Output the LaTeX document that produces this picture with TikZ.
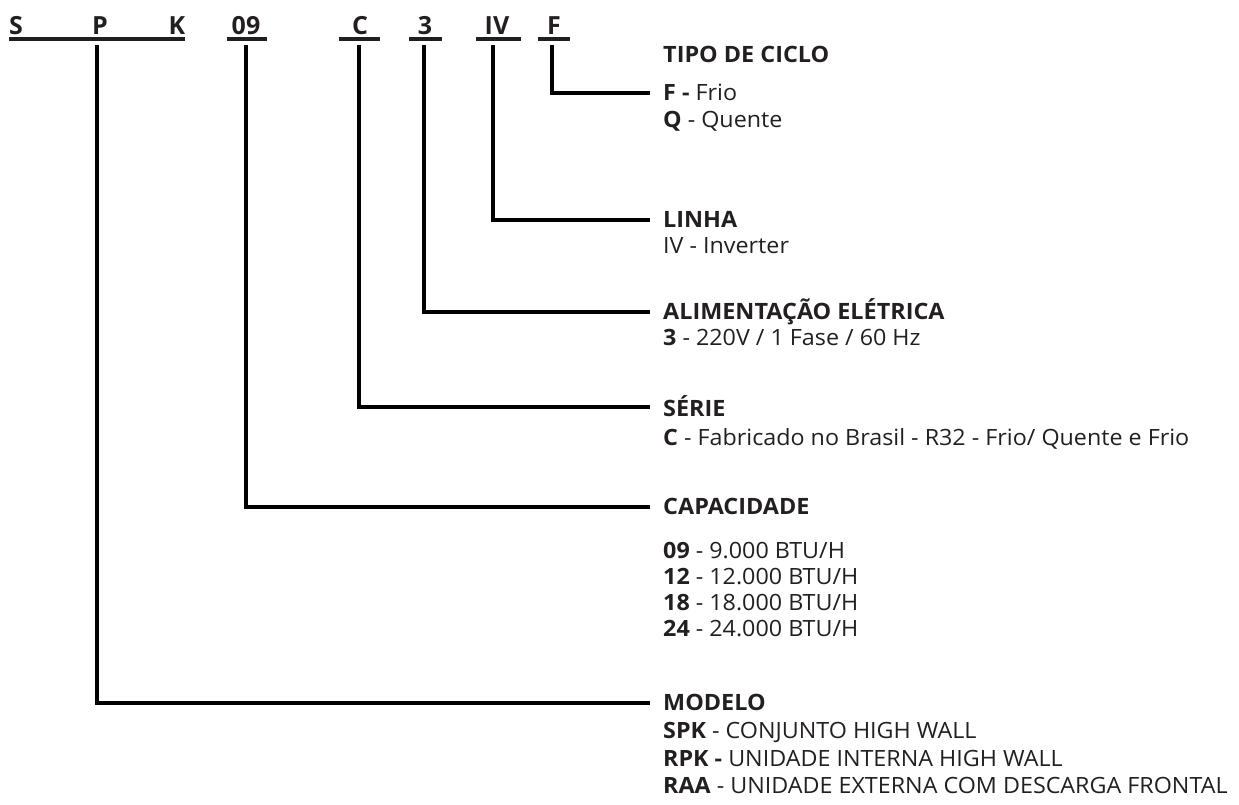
\documentclass[tikz,border=0pt]{standalone}
\usepackage{fontspec}
\setmainfont{Open Sans}[FakeStretch=1.04]
\newfontfamily\codefont{Open Sans}
\definecolor{txt}{HTML}{231F20}
\begin{document}
\begin{tikzpicture}[x=1pt,y=-1pt,
  code/.style={font=\codefont\fontsize{25}{25}\selectfont\bfseries, text=txt, inner sep=0pt, anchor=base},
  head/.style={font=\fontsize{22.5}{24}\selectfont\bfseries, text=txt, inner sep=0pt, anchor=base west},
  item/.style={font=\fontsize{22.4}{24}\selectfont, text=txt, inner sep=0pt, anchor=base west},
  uline/.style={line width=4pt, txt},
  conn/.style={line width=4.5pt, black, line join=miter}]
\useasboundingbox (0,0) rectangle (1239,804);
% code letters
\node[code] (S) at (16,34) {S};
\node[code] (P) at (100,34) {P};
\node[code] (K) at (177,34) {K};
\node[code] (n09) at (246,34) {09};
\node[code] (C) at (360,34) {C};
\node[code] (n3) at (425,34) {3};
\node[code] (IV) at (497,34) {IV};
\node[code] (F) at (554,34) {F};
% underlines
\coordinate (u1a) at (9,39); \coordinate (u1b) at (185,39);
\coordinate (u2a) at (227,39); \coordinate (u2b) at (267,39);
\coordinate (u3a) at (339,39); \coordinate (u3b) at (380,39);
\coordinate (u4a) at (409,39); \coordinate (u4b) at (442,39);
\coordinate (u5a) at (476,39); \coordinate (u5b) at (521,39);
\coordinate (u6a) at (538,39); \coordinate (u6b) at (570,39);
\foreach \i in {1,...,6} \draw[uline] (u\i a) -- (u\i b);
% headings and items
\node[head] (tipo) at (663,62) {TIPO DE CICLO};
\node[item] (tipo1) at (663,100) {\textbf{F -} Frio};
\node[item] (tipo2) at (663,127) {\textbf{Q} - Quente};
\node[head] (linha) at (663,227) {LINHA};
\node[item] (linha1) at (663,253) {IV - Inverter};
\node[head] (alim) at (663,319) {ALIMENTAÇÃO ELÉTRICA};
\node[item] (alim1) at (663,345) {\textbf{3} - 220V / 1 Fase / 60 Hz};
\node[head] (serie) at (663,416) {SÉRIE};
\node[item] (serie1) at (663,445) {\textbf{C} - Fabricado no Brasil - R32 - Frio/ Quente e Frio};
\node[head] (cap) at (663,514) {CAPACIDADE};
\node[item] (cap1) at (663,558) {\textbf{09} - 9.000 BTU/H};
\node[item] (cap2) at (663,584) {\textbf{12} - 12.000 BTU/H};
\node[item] (cap3) at (663,610) {\textbf{18} - 18.000 BTU/H};
\node[item] (cap4) at (663,636) {\textbf{24} - 24.000 BTU/H};
\node[head] (mod) at (663,710) {MODELO};
\node[item] (mod1) at (663,738) {\textbf{SPK} - CONJUNTO HIGH WALL};
\node[item] (mod2) at (663,766) {\textbf{RPK -} UNIDADE INTERNA HIGH WALL};
\node[item] (mod3) at (663,793) {\textbf{RAA} - UNIDADE EXTERNA COM DESCARGA FRONTAL};
% connector start/end points
\coordinate (sF) at (552,45);  \coordinate (eF) at (650,93);
\coordinate (sIV) at (493,45); \coordinate (eIV) at (650,220);
\coordinate (s3) at (424,45);  \coordinate (e3) at (650,312);
\coordinate (sC) at (359,45);  \coordinate (eC) at (650,407);
\coordinate (s09) at (246,45); \coordinate (e09) at (650,507);
\coordinate (sP) at (97,45);   \coordinate (eP) at (650,703);
\draw[conn] (sF) |- (eF);
\draw[conn] (sIV) |- (eIV);
\draw[conn] (s3) |- (e3);
\draw[conn] (sC) |- (eC);
\draw[conn] (s09) |- (e09);
\draw[conn] (sP) |- (eP);
\end{tikzpicture}
\end{document}
